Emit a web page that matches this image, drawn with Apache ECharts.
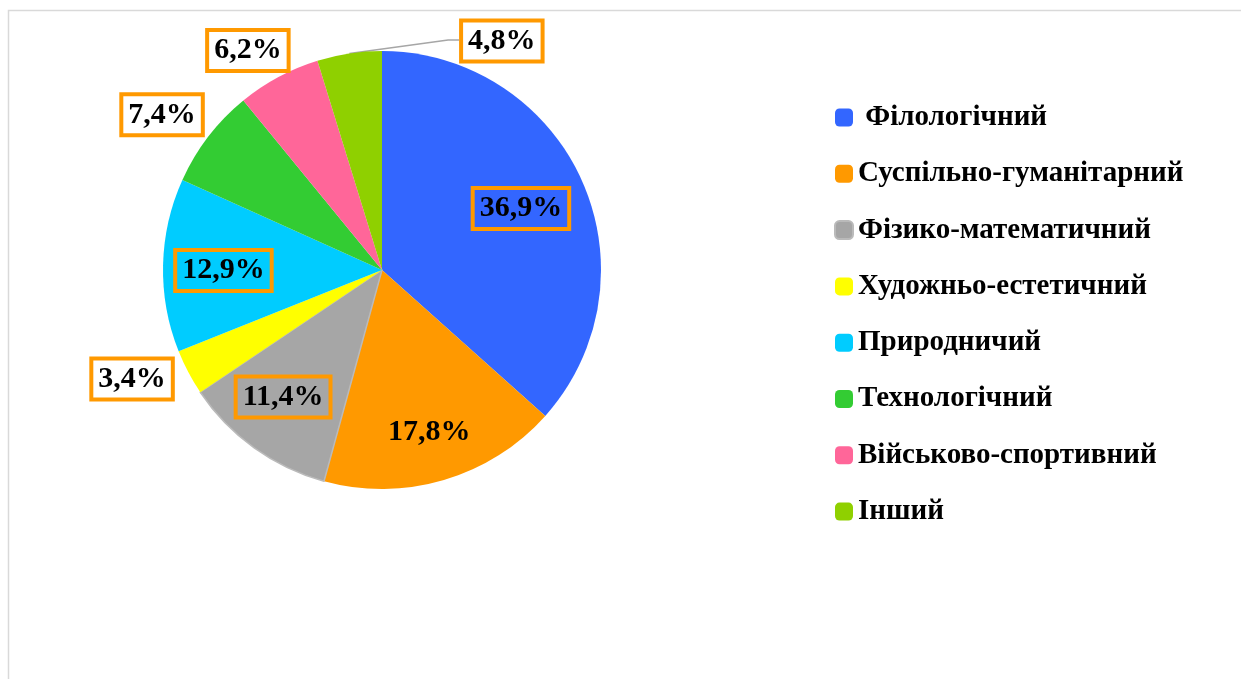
<!DOCTYPE html>
<html>
<head>
<meta charset="utf-8">
<script src="https://cdn.jsdelivr.net/npm/echarts@6/dist/echarts.min.js"></script>
<style>
html,body{margin:0;padding:0;background:#fff;}
#chart{width:1241px;height:679px;}
</style>
</head>
<body>
<div id="chart"></div>
<script>
// ---- data ----
var categories = ['Філологічний','Суспільно-гуманітарний','Фізико-математичний','Художньо-естетичний','Природничий','Технологічний','Військово-спортивний','Інший'];
var values = [36.9, 17.8, 11.4, 3.4, 12.9, 7.4, 6.2, 4.8];
var labelTexts = ['36,9%','17,8%','11,4%','3,4%','12,9%','7,4%','6,2%','4,8%'];

// ---- style ----
var colors = ['#3366ff','#ff9900','#a6a6a6','#ffff00','#00ccff','#33cc33','#ff6699','#8fd000'];
var labelDist = [0.694, 0.77, 0.735, 1.245, 0.724, 1.229, 1.175, 1.18];   // label distance (fraction of radius)
var labelShift = [0.2, 0.2, 2.2, 4.3, -1.4, -2.3, -3.2, 36.2];           // label angle shift (deg)
var labelBoxed = [true, false, true, true, true, true, true, true];
var CX = 382, CY = 270, R = 219;

var total = values.reduce(function(a,b){return a+b;},0);
var midAngles = [];
(function(){
  var acc = 0;
  for (var i=0;i<values.length;i++){
    midAngles.push((acc + values[i]/2)/total*360);
    acc += values[i];
  }
})();

function polar(angDeg, r){
  var a = angDeg*Math.PI/180;
  return [CX + r*Math.sin(a), CY - r*Math.cos(a)];
}

var data = categories.map(function(name,i){
  var item = {
    name: name,
    value: values[i],
    itemStyle: {color: colors[i]},
    label: {
      formatter: labelTexts[i],
      borderWidth: labelBoxed[i] ? 2 : 0,
      borderColor: labelBoxed[i] ? '#ff9900' : 'transparent'
    },
    labelLine: {show: i === 7}
  };
  if (i === 2) { item.itemStyle.borderColor = '#bababa'; item.itemStyle.borderWidth = 1.5; }
  return item;
});

var chart = echarts.init(document.getElementById('chart'), null, {renderer:'canvas'});
chart.setOption({
  backgroundColor: '#ffffff',
  animation: false,
  graphic: [{
    type: 'rect', silent: true, z: -10,
    shape: {x: 8.5, y: 10.5, width: 1400, height: 900},
    style: {fill: 'none', stroke: '#d9d9d9', lineWidth: 1.5}
  }],
  legend: {
    orient: 'vertical',
    left: 829,
    top: 98,
    itemWidth: 18,
    itemHeight: 18,
    itemGap: 27.3,
    icon: 'roundRect',
    data: categories,
    formatter: function(name){ return name === categories[0] ? ' ' + name : name; },
    textStyle: {
      fontFamily: 'Liberation Serif',
      fontWeight: 'bold',
      fontSize: 29,
      lineHeight: 29,
      color: '#000'
    }
  },
  series: [{
    type: 'pie',
    center: [CX, CY],
    radius: R,
    startAngle: 90,
    clockwise: true,
    avoidLabelOverlap: false,
    itemStyle: {borderWidth: 0},
    emphasis: {disabled: true},
    label: {
      show: true,
      position: 'outside',
      fontFamily: 'Liberation Serif',
      fontWeight: 'bold',
      fontSize: 30,
      lineHeight: 31,
      color: '#000',
      padding: [5, 7, 5, 7],
      backgroundColor: 'transparent'
    },
    labelLine: {
      show: false,
      lineStyle: {color: '#a6a6a6', width: 1.5}
    },
    labelLayout: function(p){
      var i = p.dataIndex;
      var pt = polar(midAngles[i] + labelShift[i], R*labelDist[i]);
      var res = {x: pt[0], y: pt[1], align: 'center', verticalAlign: 'middle'};
      if (i === 7) {
        var w = p.labelRect.width;
        var left = pt[0] - w/2;
        var edge = polar(midAngles[i], R);
        res.labelLinePoints = [edge, [left - 11, pt[1] - 1], [left, pt[1] - 1]];
      }
      return res;
    },
    data: data
  }]
});
</script>
</body>
</html>
